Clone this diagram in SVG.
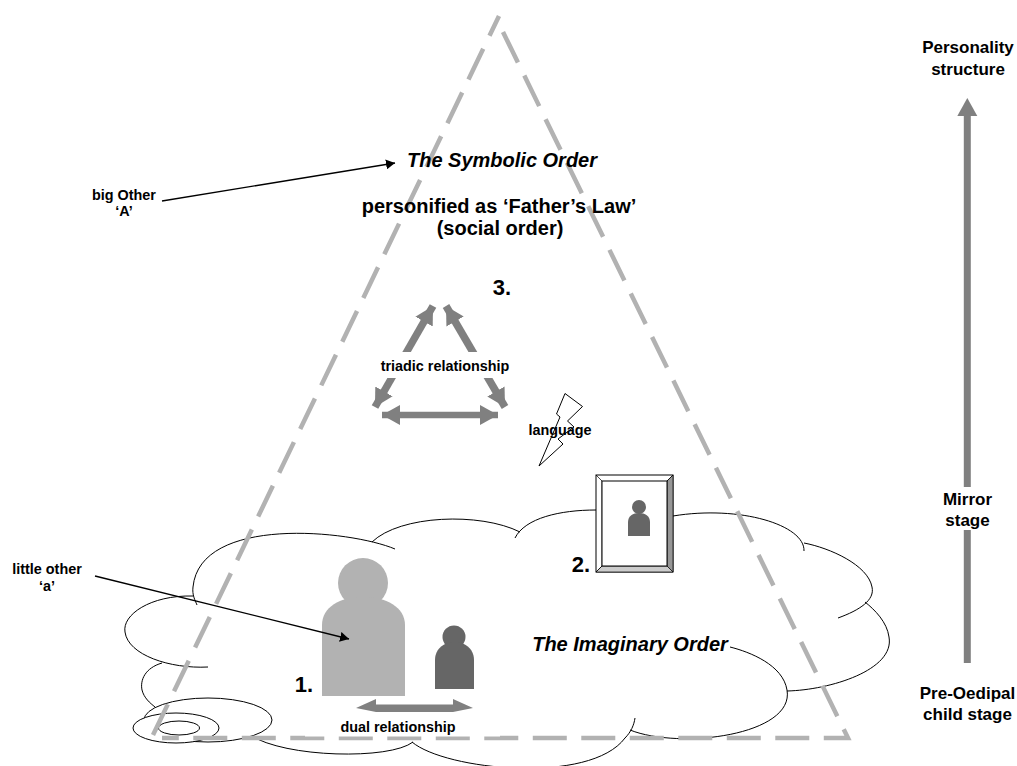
<svg xmlns="http://www.w3.org/2000/svg" width="1017" height="766" viewBox="0 0 1017 766">
<style>
text{font-family:"Liberation Sans",Arial,sans-serif;font-weight:700;fill:#000;text-anchor:middle}
.l{font-size:14.4px}.m{font-size:17px}.b{font-size:20px}.i{font-style:italic;font-size:20px}.n{font-size:22px}
.c{fill:none;stroke:#000;stroke-width:1}
.e{fill:#fff;stroke:#000;stroke-width:1}
.d{fill:none;stroke:#b2b2b2;stroke-width:4.5;stroke-dasharray:34 14.500}
.g{fill:none;stroke:#808080;stroke-width:7.5;marker-start:url(#gh);marker-end:url(#gh)}
.k{fill:none;stroke:#000;stroke-width:1.3;marker-end:url(#kh)}
</style>
<defs>
<marker id="gh" markerUnits="userSpaceOnUse" markerWidth="20" markerHeight="22" refX="18" refY="11" orient="auto-start-reverse"><path d="M0 1L18 11L0 21Z" fill="#808080"/></marker>
<marker id="kh" markerUnits="userSpaceOnUse" markerWidth="10" markerHeight="10" refX="9" refY="5" orient="auto"><path d="M0 0L9 5L0 10Z" fill="#000"/></marker>
</defs>
<g id="imaginary-cloud">
<path class="c" d="M395 549C350 530 200 515 193 587C192 595 195 600 197 605"/>
<path class="c" d="M193 596C150 595 122 615 125 632C128 655 170 669 208 667"/>
<path class="c" d="M162 663C145 668 140 680 142 690C144 698 150 703 155 707"/>
<path class="c" d="M250 735C285 758 390 760 413 742"/>
<path class="c" d="M412 742C445 770 590 785 625 738C631 732 634 725 635 718"/>
<path class="c" d="M630 730C680 750 795 735 787 690C783 665 750 652 730 647"/>
<path class="c" d="M787 691C830 690 895 670 889 637C887 622 875 610 865 602"/>
<path class="c" d="M838 618C860 610 875 600 872 587C868 565 830 548 804 543"/>
<path class="c" d="M804 551C805 525 740 505 673 516"/>
<path class="c" d="M596 510C560 510 525 518 515 538"/>
<path class="c" d="M372 542C400 515 480 512 520 532"/>
<ellipse class="e" cx="208" cy="720" rx="64" ry="22"/>
<ellipse class="e" cx="176" cy="728" rx="43" ry="15"/>
<ellipse class="e" cx="179" cy="728" rx="20.500" ry="7"/>
</g>
<g id="triangle">
<path class="d" d="M153 735L499 16"/>
<path class="d" d="M503 32L848 738L162 738"/>
<rect x="305" y="733" width="195" height="3.500" fill="#fff"/>
</g>
<g id="person-large"><circle cx="363" cy="583" r="25" fill="#b2b2b2"/><path d="M322 696V625C322 607 340 597 363 597S405 607 405 625V696Z" fill="#b2b2b2"/></g>
<g id="person-small"><circle cx="454" cy="637" r="11.500" fill="#666"/><path d="M435 689V660C435 648 445 642 454.500 642S474 648 474 660V689Z" fill="#666"/></g>
<g id="mirror">
<rect x="596" y="475" width="77" height="97" fill="#fff" stroke="#000"/>
<path d="M667 481L673 475V572L667 566Z" fill="#969696" stroke="#000" stroke-width=".7"/>
<path d="M602 566H667L673 572H596Z" fill="#ccc" stroke="#000" stroke-width=".7"/>
<path d="M596 475L602 481V566L596 572M673 475L667 481" fill="none" stroke="#000" stroke-width=".7"/>
<rect x="602" y="481" width="65" height="85" fill="#fff" stroke="#000"/>
<circle cx="639" cy="507" r="7" fill="#666"/><path d="M628 536V522C628 516 633 513 639 513S650 516 650 522V536Z" fill="#666"/>
</g>
<g id="lightning"><path d="M565 393.500L582.500 406.500L567.500 421L574 427L558 439L563 444L539 466L560 417L556.500 414Z" fill="#fff" stroke="#000"/></g>
<g id="connectors">
<path class="g" d="M433 306L375 407"/>
<path class="g" d="M446 306L505 407"/>
<path class="g" style="stroke-width:6.500" d="M382 415H498"/>
<path class="g" style="marker:none;stroke-width:7" d="M967.300 116V487M967.300 530V663"/>
<path d="M967.300 98L977.300 116H957.300Z" fill="#808080"/>
<path d="M356 708L376 699V704.500H453V699L473 708L453 712H376Z" fill="#808080"/>
<path class="k" d="M162 201L395 163"/>
<path class="k" d="M95 576L349 639"/>
</g>
<g id="labels">
<rect x="372" y="352" width="146" height="26" fill="#fff"/>
<text class="l" x="445" y="371">triadic relationship</text>
<text class="l" x="560" y="435">language</text>
<text class="l" x="398" y="732">dual relationship</text>
<text class="i" x="502" y="167">The Symbolic Order</text>
<text class="i" x="630" y="651">The Imaginary Order</text>
<text class="b" x="499" y="213">personified as ‘Father’s Law’</text>
<text class="b" x="500" y="235">(social order)</text>
<text class="n" x="502" y="295">3.</text>
<text class="n" x="304" y="692">1.</text>
<text class="n" x="581" y="572">2.</text>
<text class="l" x="124" y="200">big Other</text><text class="l" x="124" y="216">‘A’</text>
<text class="l" x="47" y="574">little other</text><text class="l" x="47" y="591">‘a’</text>
<text class="m" x="968" y="53">Personality</text><text class="m" x="968" y="75">structure</text>
<text class="m" x="967.500" y="505">Mirror</text><text class="m" x="967.500" y="526">stage</text>
<text class="m" x="967.500" y="699">Pre-Oedipal</text><text class="m" x="967.500" y="720">child stage</text>
</g>
</svg>
